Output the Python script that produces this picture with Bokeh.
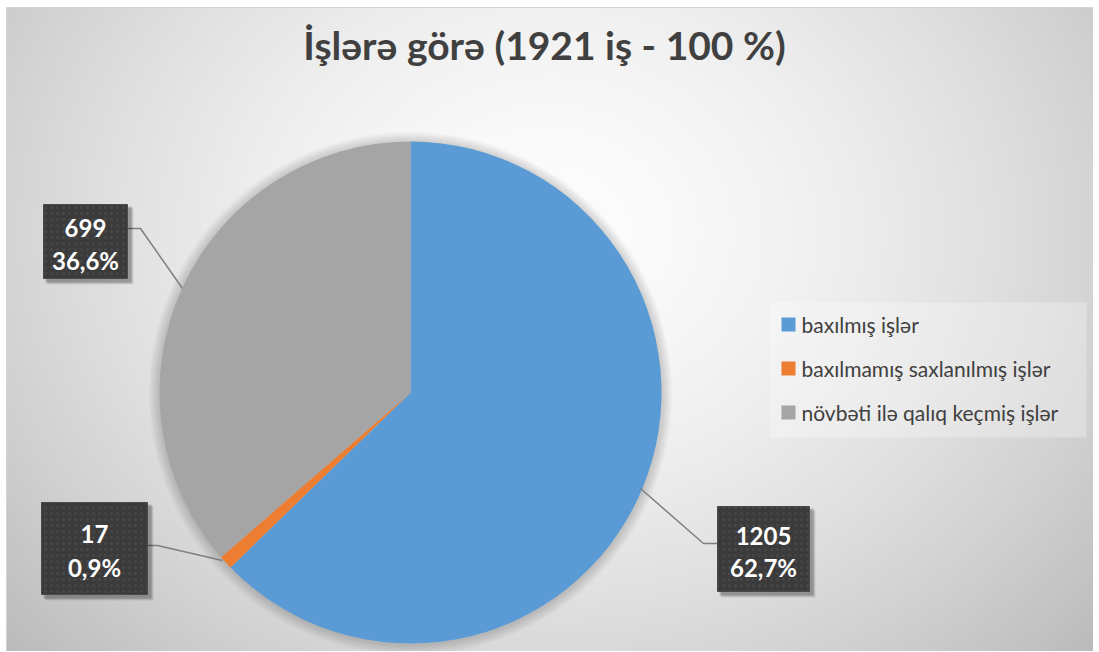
import numpy as np
from bokeh.plotting import figure
from bokeh.models import Range1d, ColumnDataSource
from bokeh.core.properties import value
from bokeh.embed import file_html
from bokeh.resources import INLINE

# ---- data ----
categories = ["baxılmış işlər", "baxılmamış saxlanılmış işlər", "növbəti ilə qalıq keçmiş işlər"]
counts = [1205, 17, 699]
percent_labels = ["62,7%", "0,9%", "36,6%"]
colors = ["#5B9BD5", "#ED7D31", "#A5A5A5"]
title_text = "İşlərə görə (1921 iş - 100 %)"

# ---- layout helpers (page pixel coordinates; data y = 652 - screen y) ----
W, H = 1093, 651
def Y(sy):
    return 652 - sy

p = figure(width=W, height=H, x_range=Range1d(0, W), y_range=Range1d(1, 652),
           output_backend="svg", toolbar_location=None, min_border=0,
           outline_line_color=None, background_fill_color="white",
           border_fill_color="white")
p.axis.visible = False
p.grid.visible = False

# background radial gradient (chart area 6..1093 x 7..651)
X0, X1, S0, S1 = 6, 1093, 7, 651
nx, ny = 544, 322
xs = X0 + (np.arange(nx) + 0.5) * (X1 - X0) / nx
sy = S1 - (np.arange(ny) + 0.5) * (S1 - S0) / ny   # row 0 at bottom
XX, YY = np.meshgrid(xs, sy)
t = np.sqrt(((XX - 550) / 620) ** 2 + ((YY - 230) / 520) ** 2)
v = np.clip(253 - 50 * t ** 1.6, 185, 253).astype(np.uint8)
img = np.empty((ny, nx), dtype=np.uint32)
view = img.view(dtype=np.uint8).reshape((ny, nx, 4))
view[..., 0] = v
view[..., 1] = v
view[..., 2] = v
view[..., 3] = 255
p.image_rgba(image=[img], x=X0, y=Y(S1), dw=X1 - X0, dh=S1 - S0)
p.rect(x=[(X0 + X1) / 2], y=[Y((S0 + S1) / 2)], width=X1 - X0, height=S1 - S0,
       fill_color=None, line_color="#d4d4d4", line_width=1)

# title
p.text(x=[544], y=[Y(44)], text=[title_text], text_align="center", text_baseline="middle",
       text_font=value("Lato"), text_font_style="bold", text_font_size="39px",
       text_color="#404040")

# pie
cx, cy, R = 410, Y(392), 251
for k in range(1, 8):
    p.circle(x=[cx], y=[cy - 1], radius=R + k * 1.5, fill_color="black",
             fill_alpha=0.022, line_color=None)
total = float(sum(counts))
fr = np.array(counts) / total
cum = np.concatenate([[0], np.cumsum(fr)])
src = ColumnDataSource(dict(
    start=np.pi / 2 - 2 * np.pi * cum[:-1],
    end=np.pi / 2 - 2 * np.pi * cum[1:],
    color=colors))
p.wedge(x=cx, y=cy, radius=R, start_angle="start", end_angle="end", direction="clock",
        fill_color="color", line_color=None, source=src)

# leader lines
leaders = [
    ([717, 703, 640], [543, 543, 488]),
    ([147, 157, 222], [545, 545, 560]),
    ([127, 140, 182], [228, 228, 288]),
]
for lx, ly in leaders:
    p.line(lx, [Y(v_) for v_ in ly], line_color="#7f7f7f", line_width=1.5)

# data label boxes
boxes = [  # center x, center y, w, h, line1 y, line2 y
    (763, 548.5, 92, 85, 535, 567),
    (94, 548, 106, 92, 533, 567),
    (85, 241, 84, 74, 227, 260),
]
for i, (bx, by, bw, bh, l1, l2) in enumerate(boxes):
    for off, a in [(5, 0.08), (4, 0.12), (3, 0.16)]:
        p.rect(x=[bx + off], y=[Y(by + off)], width=bw + 2, height=bh + 2,
               fill_color="black", fill_alpha=a, line_color=None)
    p.rect(x=[bx], y=[Y(by)], width=bw, height=bh, fill_color="#3b3b3b",
           line_color="#4a4a4a", hatch_pattern=".", hatch_color="#474747",
           hatch_scale=6, hatch_weight=1)
    p.text(x=[bx], y=[Y(l1)], text=[str(counts[i])], text_align="center",
           text_baseline="middle", text_font=value("Lato"), text_font_style="bold",
           text_font_size="24px", text_color="white")
    p.text(x=[bx], y=[Y(l2)], text=[percent_labels[i]], text_align="center",
           text_baseline="middle", text_font=value("Lato"), text_font_style="bold",
           text_font_size="24px", text_color="white")

# legend
p.rect(x=[(769 + 1086) / 2], y=[Y((302 + 437) / 2)], width=1086 - 769, height=437 - 302,
       fill_color="white", fill_alpha=0.28, line_color=None)
leg_y = [324, 368, 412]
p.rect(x=[788] * 3, y=[Y(v_) for v_ in leg_y], width=14, height=14,
       fill_color=colors, line_color=None)
p.text(x=[801] * 3, y=[Y(v_) for v_ in leg_y], text=categories, text_align="left",
       text_baseline="middle", text_font=value("Lato"), text_font_size="21px",
       text_color="#404040")

open("out.html", "w").write(file_html(p, INLINE))
